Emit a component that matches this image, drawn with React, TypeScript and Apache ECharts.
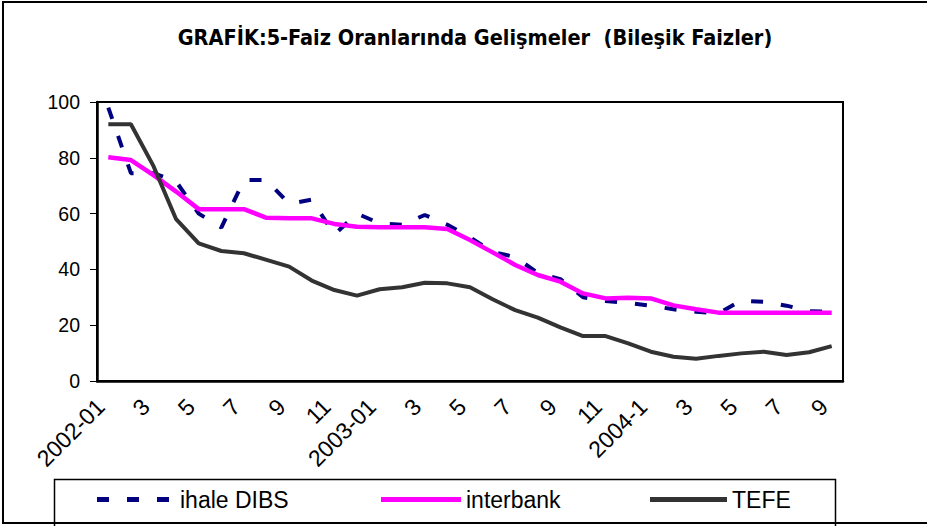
import React, { useEffect, useRef } from "react";
import * as echarts from "echarts";

const categories = [
  "2002-01", "2", "3", "4", "5", "6", "7", "8", "9", "10", "11", "12",
  "2003-01", "2", "3", "4", "5", "6", "7", "8", "9", "10", "11", "12",
  "2004-1", "2", "3", "4", "5", "6", "7", "8", "9",
];

const ihaleDIBS = [
  98, 74.5, 74.5, 71.5, 60, 55, 72, 72, 63.5, 65, 52.5, 60,
  56.5, 56, 59.5, 56, 51.5, 46.3, 44.4, 38.7, 36.5, 30, 28.7, 28,
  27, 25.7, 24.8, 24.3, 28.8, 28.4, 27, 25, 24.8,
];

const interbank = [
  80.2, 79.2, 73.8, 67.9, 61.6, 61.6, 61.6, 58.5, 58.3, 58.3, 56.3, 55.3,
  55.1, 55.1, 55.1, 54.5, 50.5, 46.1, 41.6, 38, 35.6, 31.4, 29.6, 29.8,
  29.6, 27.1, 25.7, 24.5, 24.5, 24.5, 24.5, 24.5, 24.5,
];

const tefe = [
  92, 92, 77, 58, 49.3, 46.6, 45.8, 43.4, 41, 36, 32.6, 30.6,
  32.9, 33.6, 35.2, 35, 33.6, 29.3, 25.4, 22.7, 19.2, 16.1, 16.1, 13.5,
  10.5, 8.7, 8, 9, 9.9, 10.5, 9.3, 10.3, 12.5,
];

const yTicks = { min: 0, max: 100, interval: 20 };

const TITLE = "GRAFİK:5-Faiz Oranlarında Gelişmeler  (Bileşik Faizler)";
const FONT = "'Liberation Sans', Arial, sans-serif";

const DASH_ICON = "path://M0,0h12v5h-12z M30,0h12v5h-12z M60,0h12v5h-12z";
const SOLID_ICON = "path://M0,0h80v5h-80z";

export default function App() {
  const ref = useRef<HTMLDivElement>(null);
  useEffect(() => {
    if (!ref.current) return;
    const chart = echarts.init(ref.current, null, { renderer: "svg" });
    const textStyle = { fontSize: 23, color: "#000", fontFamily: FONT };
    chart.setOption({
      animation: false,
      backgroundColor: "#fff",
      title: {
        text: TITLE,
        left: 470,
        textAlign: "center",
        top: 21,
        textStyle: {
          fontSize: 21.5,
          fontWeight: "bold",
          color: "#000",
          fontFamily: "'DejaVu Sans Condensed', 'DejaVu Sans', sans-serif",
        },
      },
      grid: {
        left: 97,
        right: 84,
        top: 102,
        bottom: 145,
        show: true,
        borderColor: "#000",
        borderWidth: 2,
        backgroundColor: "transparent",
      },
      legend: [
        { top: 488, left: 97, itemWidth: 72, itemHeight: 5, icon: DASH_ICON, padding: 0, data: ["ihale DIBS"], textStyle: { ...textStyle, padding: [0, 0, 0, 6] } },
        { top: 488, left: 381, itemWidth: 80, itemHeight: 5, icon: SOLID_ICON, padding: 0, data: ["interbank"], textStyle },
        { top: 488, left: 650, itemWidth: 77, itemHeight: 5, icon: SOLID_ICON, padding: 0, data: ["TEFE"], textStyle },
      ],
      xAxis: {
        type: "category",
        data: categories,
        boundaryGap: true,
        axisLine: { lineStyle: { color: "#000", width: 2.5 } },
        axisTick: { interval: 0, length: 7, lineStyle: { color: "#000", width: 1 } },
        axisLabel: {
          interval: 1,
          rotate: 45,
          fontSize: 23,
          color: "#000",
          fontFamily: FONT,
          margin: 14,
          padding: [0, 11, 0, 0],
        },
        splitLine: { show: false },
      },
      yAxis: {
        type: "value",
        min: yTicks.min,
        max: yTicks.max,
        interval: yTicks.interval,
        axisLine: { show: true, lineStyle: { color: "#000", width: 2.5 } },
        axisTick: { show: true, length: 7, lineStyle: { color: "#000", width: 1 } },
        axisLabel: { fontSize: 19.5, color: "#000", fontFamily: FONT, margin: 17 },
        splitLine: { show: false },
      },
      series: [
        {
          name: "ihale DIBS",
          type: "line",
          data: ihaleDIBS,
          symbol: "none",
          showSymbol: false,
          lineStyle: { color: "#000080", width: 4, type: [12, 18], cap: "butt" },
          itemStyle: { color: "#000080" },
          z: 3,
        },
        {
          name: "interbank",
          type: "line",
          data: interbank,
          symbol: "none",
          showSymbol: false,
          lineStyle: { color: "#FF00FF", width: 4.5 },
          itemStyle: { color: "#FF00FF" },
          z: 4,
        },
        {
          name: "TEFE",
          type: "line",
          data: tefe,
          symbol: "none",
          showSymbol: false,
          lineStyle: { color: "#333333", width: 4 },
          itemStyle: { color: "#333333" },
          z: 5,
        },
      ],
      graphic: [
        {
          type: "rect",
          shape: { x: 3, y: 2, width: 940, height: 521 },
          style: { fill: "none", stroke: "#000", lineWidth: 2 },
          silent: true,
        },
        {
          type: "rect",
          shape: { x: 54.5, y: 479.5, width: 781, height: 60 },
          style: { fill: "none", stroke: "#000", lineWidth: 1.5 },
          silent: true,
        },
      ],
    });
    return () => chart.dispose();
  }, []);
  return (
    <div
      ref={ref}
      style={{ position: "absolute", left: 0, top: 0, width: 927, height: 526 }}
    />
  );
}
